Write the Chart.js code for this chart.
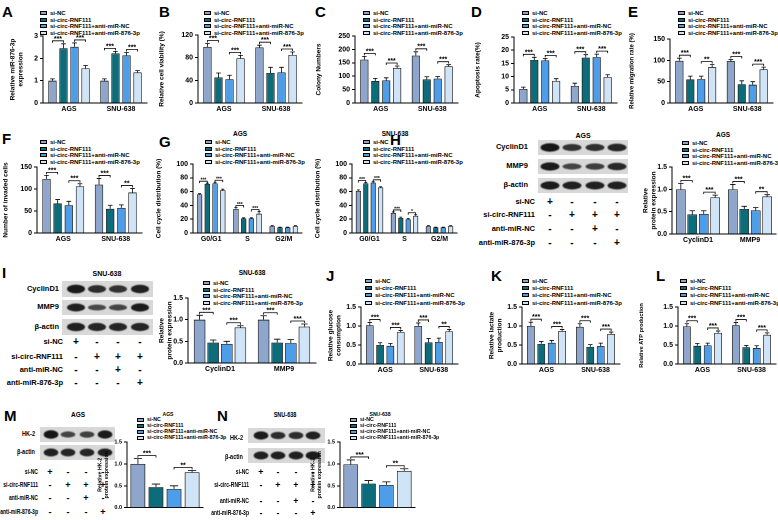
<!DOCTYPE html>
<html>
<head>
<meta charset="utf-8">
<script src="https://cdn.jsdelivr.net/npm/chart.js@4.4.1/dist/chart.umd.min.js"></script>
<style>
  body { margin: 0; background: #fff; width: 778px; height: 520px; position: relative; overflow: hidden;
         font-family: "Liberation Sans", Arial, sans-serif; font-weight: bold; color: #000; }
  .t { position: absolute; white-space: nowrap; line-height: 1; }
  canvas { position: absolute; }
  .lb { position: absolute; width: 7px; height: 4px; border: 0.6px solid #000; box-sizing: border-box; }
</style>
</head>
<body>
<script>
const series = ['si-NC', 'si-circ-RNF111', 'si-circ-RNF111+anti-miR-NC', 'si-circ-RNF111+anti-miR-876-3p'];
const colors = ['#8ea6cc', '#0d6c7a', '#4d9de8', '#d0e4f7'];
const cellLines = ['AGS', 'SNU-638'];
const phases = ['G0/G1', 'S', 'G2/M'];
const proteins = ['CyclinD1', 'MMP9'];

// A miR-876-3p
const mirAGS = [1.0, 2.45, 2.52, 1.55];
const mirSNU = [1.0, 2.22, 2.13, 1.37];
const mirAGSErr = [0.08, 0.2, 0.17, 0.13];
const mirSNUErr = [0.08, 0.09, 0.13, 0.08];
const mirSig = ['***', '***', '***', '***'];

// B viability
const viaAGS = [99, 45, 42, 79];
const viaSNU = [98, 53, 54, 85];
const viaAGSErr = [6, 8, 7, 5];
const viaSNUErr = [4, 10, 9, 5];
const viaSig = ['***', '***', '***', '***'];

// C colonies
const colAGS = [162, 82, 84, 131];
const colSNU = [177, 88, 91, 137];
const colAGSErr = [12, 10, 10, 7];
const colSNUErr = [14, 10, 8, 6];
const colSig = ['***', '***', '***', '***'];

// D apoptosis
const apoAGS = [5.3, 16.3, 16.1, 8.4];
const apoSNU = [6.5, 17.2, 17.4, 9.8];
const apoAGSErr = [0.7, 1.0, 0.8, 0.8];
const apoSNUErr = [1.0, 1.1, 1.1, 0.9];
const apoSig = ['***', '***', '***', '***'];

// E migration
const migAGS = [99, 55, 56, 84];
const migSNU = [98, 44, 43, 79];
const migAGSErr = [6, 8, 7, 6];
const migSNUErr = [4, 8, 7, 5];
const migSig = ['***', '**', '***', '***'];

// F invasion
const invAGS = [123, 67, 63, 106];
const invSNU = [110, 55, 57, 92];
const invAGSErr = [8, 9, 9, 6];
const invSNUErr = [14, 8, 7, 9];
const invSig = ['***', '***', '***', '**'];

// G cell cycle
const ccAGS_G1 = [56, 71, 72, 62], ccAGS_S = [35, 21, 21, 28], ccAGS_G2 = [10, 8, 8, 10];
const ccAGS_G1Err = [1, 1.2, 1.5, 1.5], ccAGS_SErr = [2, 1, 1, 3], ccAGS_G2Err = [0.6, 0.4, 0.4, 0.6];
const ccAGSSig = ['***', '***', '***', '***', '', ''];
const ccSNU_G1 = [61, 72, 73, 66], ccSNU_S = [29, 22, 20, 25], ccSNU_G2 = [10, 8, 8, 10];
const ccSNU_G1Err = [1.5, 1.2, 1.2, 1], ccSNU_SErr = [1.5, 1, 1, 1.5], ccSNU_G2Err = [0.6, 0.4, 0.4, 0.6];
const ccSNUSig = ['***', '***', '***', '*', '', ''];

// H / I protein expression
const hCyc = [1.0, 0.44, 0.45, 0.82], hMmp = [1.0, 0.56, 0.53, 0.84];
const hCycErr = [0.13, 0.08, 0.07, 0.05], hMmpErr = [0.11, 0.06, 0.06, 0.04];
const hSig = ['***', '***', '***', '**'];
const iCyc = [1.0, 0.47, 0.44, 0.82], iMmp = [1.0, 0.47, 0.46, 0.84];
const iCycErr = [0.1, 0.06, 0.06, 0.04], iMmpErr = [0.09, 0.08, 0.08, 0.06];
const iSig = ['***', '***', '***', '***'];

// J glucose, K lactate, L ATP
const gluAGS = [1.02, 0.5, 0.48, 0.84], gluSNU = [1.0, 0.57, 0.58, 0.86];
const gluAGSErr = [0.07, 0.06, 0.06, 0.04], gluSNUErr = [0.08, 0.1, 0.1, 0.05];
const gluSig = ['***', '***', '***', '**'];
const lacAGS = [1.0, 0.53, 0.56, 0.87], lacSNU = [0.98, 0.45, 0.47, 0.79];
const lacAGSErr = [0.1, 0.06, 0.06, 0.04], lacSNUErr = [0.08, 0.06, 0.08, 0.05];
const lacSig = ['***', '***', '***', '***'];
const atpAGS = [0.99, 0.48, 0.49, 0.82], atpSNU = [1.02, 0.44, 0.42, 0.77];
const atpAGSErr = [0.07, 0.06, 0.06, 0.05], atpSNUErr = [0.07, 0.05, 0.06, 0.05];
const atpSig = ['***', '***', '***', '***'];

// M / N HK-2
const hkAGS = [1.0, 0.47, 0.43, 0.81], hkAGSErr = [0.12, 0.07, 0.07, 0.04];
const hkSNU = [0.99, 0.55, 0.52, 0.84], hkSNUErr = [0.1, 0.07, 0.07, 0.05];
const hkSig = ['***', '**'];

// blot band strength per lane
const hBandCyc = [1.0, 0.7, 0.72, 0.85], hBandMmp = [0.95, 0.5, 0.58, 0.8], hBandAct = [0.95, 0.9, 0.9, 0.9];
const iBandCyc = [0.95, 0.75, 0.7, 0.9], iBandMmp = [0.9, 0.45, 0.5, 0.95], iBandAct = [0.9, 0.85, 0.85, 0.85];
const mBandHk = [1.0, 0.5, 0.55, 0.95], mBandAct = [0.9, 0.85, 0.85, 0.9];
const nBandHk = [0.95, 0.75, 0.75, 0.9], nBandAct = [0.9, 0.9, 0.9, 0.95];

const signRows = ['si-NC', 'si-circ-RNF111', 'anti-miR-NC', 'anti-miR-876-3p'];
const signNC = ['+', '-', '-', '-'];
const signCirc = ['-', '+', '+', '+'];
const signAntiNC = ['-', '-', '+', '-'];
const signAnti876 = ['-', '-', '-', '+'];

Chart.defaults.font.family = '"Liberation Sans", Arial, sans-serif';
Chart.defaults.font.weight = 'bold';
Chart.defaults.color = '#000';

function txt(s, x, y, size, align, sx) {
  const d = document.createElement('div');
  d.className = 't';
  d.textContent = s;
  d.style.left = x + 'px';
  d.style.top = y + 'px';
  d.style.fontSize = size + 'px';
  const tx = align === 'center' ? '-50%' : align === 'right' ? '-100%' : '0';
  d.style.transformOrigin = (align === 'center' ? 'center' : align === 'right' ? 'right' : 'left') + ' center';
  d.style.transform = `translate(${tx},-50%)` + (sx ? ` scaleX(${sx})` : '');
  document.body.appendChild(d);
}

function legend(x, y0, dy, size) {
  series.forEach((s, i) => {
    const b = document.createElement('div');
    b.className = 'lb';
    b.style.left = x + 'px';
    b.style.top = (y0 + i * dy - 2) + 'px';
    b.style.background = colors[i];
    document.body.appendChild(b);
    txt(s, x + 10, y0 + i * dy, size || 6, 'left');
  });
}

const extras = {
  id: 'extras',
  afterDatasetsDraw(chart, args, o) {
    const ctx = chart.ctx, y = chart.scales.y;
    ctx.save();
    ctx.strokeStyle = '#000';
    ctx.fillStyle = '#000';
    ctx.lineWidth = 0.8;
    chart.data.datasets.forEach((ds, i) => {
      chart.getDatasetMeta(i).data.forEach((bar, j) => {
        const yt = y.getPixelForValue(ds.data[j] + o.errs[j][i]);
        const hw = bar.width * 0.28;
        ctx.beginPath();
        ctx.moveTo(bar.x, bar.y); ctx.lineTo(bar.x, yt);
        ctx.moveTo(bar.x - hw, yt); ctx.lineTo(bar.x + hw, yt);
        ctx.stroke();
      });
    });
    ctx.font = `bold ${o.starSize || 7}px "Liberation Sans"`;
    ctx.textAlign = 'center';
    ctx.textBaseline = 'bottom';
    o.sig.forEach((s, k) => {
      if (!s) return;
      const j = Math.floor(k / 2), a = (k % 2) * 2, b = a + 1;
      const ba = chart.getDatasetMeta(a).data[j], bb = chart.getDatasetMeta(b).data[j];
      const d = chart.data.datasets;
      const top = Math.max(d[a].data[j] + o.errs[j][a], d[b].data[j] + o.errs[j][b]);
      const yp = y.getPixelForValue(top) - (o.gap || 3);
      ctx.beginPath();
      ctx.moveTo(ba.x, yp + 2); ctx.lineTo(ba.x, yp); ctx.lineTo(bb.x, yp); ctx.lineTo(bb.x, yp + 2);
      ctx.stroke();
      ctx.fillText(s, (ba.x + bb.x) / 2, yp + 1.5);
    });
    ctx.restore();
  }
};

function makeBar(c) {
  const padTop = c.padTop ?? 8, padR = c.padR ?? 3, xH = c.xH ?? 11, axisW = c.axisW;
  const L = c.box[0] - axisW, T = c.box[1] - padTop;
  const W = c.box[2] - c.box[0] + axisW + padR, H = c.box[3] - c.box[1] + padTop + xH;
  const cv = document.createElement('canvas');
  cv.style.left = L + 'px';
  cv.style.top = T + 'px';
  cv.width = W; cv.height = H;
  document.body.appendChild(cv);
  const fs = c.font || 7, ts = c.titleFont || 6.5;
  new Chart(cv, {
    type: 'bar',
    data: {
      labels: c.cats,
      datasets: series.map((s, i) => ({
        label: s,
        data: c.groups.map(g => g[i]),
        backgroundColor: colors[i],
        borderColor: '#111',
        borderWidth: 0.8,
        barPercentage: c.barPct || 0.75,
        categoryPercentage: c.catPct || 0.85
      }))
    },
    options: {
      responsive: false,
      animation: false,
      devicePixelRatio: 2,
      layout: { padding: { top: padTop, right: padR, left: 0, bottom: 0 } },
      plugins: {
        legend: { display: false },
        tooltip: { enabled: false },
        extras: { errs: c.errs, sig: c.sig, starSize: c.starSize, gap: c.gap }
      },
      scales: {
        x: {
          grid: { display: true, drawOnChartArea: false, drawTicks: false },
          border: { color: '#000', width: 1 },
          ticks: { font: { size: fs, weight: 'bold' }, color: '#000', padding: 2, maxRotation: 0, autoSkip: false },
          afterFit(s) { s.height = xH; }
        },
        y: {
          min: 0, max: c.yMax,
          ticks: { stepSize: c.step, font: { size: fs, weight: 'bold' }, color: '#000', padding: 2,
                   callback: v => c.dec ? v.toFixed(c.dec) : v },
          grid: { drawOnChartArea: false, drawTicks: true, tickLength: 3, color: '#000', lineWidth: 1 },
          border: { color: '#000', width: 1 },
          title: { display: true, text: c.title, font: { size: ts, weight: 'bold' }, color: '#000', padding: 0 },
          afterFit(s) { s.width = axisW; }
        }
      }
    },
    plugins: [extras]
  });
}

function blotRow(x, y, w, h, lanes, inten) {
  const d = 2, cv = document.createElement('canvas');
  cv.width = w * d; cv.height = h * d;
  cv.style.left = x + 'px'; cv.style.top = y + 'px';
  cv.style.width = w + 'px'; cv.style.height = h + 'px';
  document.body.appendChild(cv);
  const g = cv.getContext('2d');
  g.scale(d, d);
  g.fillStyle = '#d8d8d8';
  g.fillRect(0, 0, w, h);
  const sp = lanes[1] - lanes[0];
  g.filter = 'blur(1.1px)';
  lanes.forEach((lx, i) => {
    const k = inten[i];
    g.fillStyle = `rgba(12,12,12,${0.5 + 0.45 * k})`;
    g.beginPath();
    g.ellipse(lx - x, h / 2, sp * 0.43, h * 0.13 + h * 0.15 * k, 0, 0, Math.PI * 2);
    g.fill();
  });
}

function signTable(labelX, rowsY, cols, size, signSize, sx) {
  const signs = [signNC, signCirc, signAntiNC, signAnti876];
  signRows.forEach((r, i) => {
    txt(r, labelX, rowsY[i], size, 'right', sx);
    signs[i].forEach((s, j) => txt(s, cols[j], rowsY[i], signSize, 'center'));
  });
}

// panel letters
[['A', 2, 11], ['B', 159, 11], ['C', 315, 11], ['D', 471, 11], ['E', 628, 11],
 ['F', 2, 138], ['G', 159, 141], ['H', 390, 139], ['I', 2, 272], ['J', 326, 275],
 ['K', 491, 275], ['L', 656, 275], ['M', 4, 415], ['N', 217, 415]]
  .forEach(p => txt(p[0], p[1], p[2], 15, 'left'));

// row 1
legend(40, 13, 6.7); legend(204, 13, 6.7); legend(363, 13, 6.7); legend(522, 13, 6.7); legend(678, 13, 6.7);
makeBar({ box: [43, 36, 147, 103], axisW: 34, cats: cellLines, groups: [mirAGS, mirSNU], errs: [mirAGSErr, mirSNUErr],
          sig: mirSig, yMax: 3, step: 1, title: ['Relative miR-876-3p', 'expression'] });
makeBar({ box: [198, 35, 302, 103], axisW: 40, cats: cellLines, groups: [viaAGS, viaSNU], errs: [viaAGSErr, viaSNUErr],
          sig: viaSig, yMax: 120, step: 20, title: 'Relative cell viability (%)' });
makeBar({ box: [355, 36, 458, 103], axisW: 40, cats: cellLines, groups: [colAGS, colSNU], errs: [colAGSErr, colSNUErr],
          sig: colSig, yMax: 250, step: 50, title: 'Colony Numbers' });
makeBar({ box: [514, 37, 617, 103], axisW: 40, cats: cellLines, groups: [apoAGS, apoSNU], errs: [apoAGSErr, apoSNUErr],
          sig: apoSig, yMax: 25, step: 5, title: 'Apoptosis rate(%)' });
makeBar({ box: [670, 39, 773, 103], axisW: 42, cats: cellLines, groups: [migAGS, migSNU], errs: [migAGSErr, migSNUErr],
          sig: migSig, yMax: 150, step: 50, titleFont: 6, title: 'Relative migration rate (%)' });

// row 2
legend(40, 142, 6.7);
makeBar({ box: [37, 167, 142, 233], axisW: 35, cats: cellLines, groups: [invAGS, invSNU], errs: [invAGSErr, invSNUErr],
          sig: invSig, yMax: 150, step: 50, title: 'Number of invaded cells' });
txt('AGS', 240, 134, 6.5, 'center');
legend(205, 142, 6.7);
makeBar({ box: [193, 164, 302, 233], axisW: 38, cats: phases, groups: [ccAGS_G1, ccAGS_S, ccAGS_G2],
          errs: [ccAGS_G1Err, ccAGS_SErr, ccAGS_G2Err], sig: ccAGSSig, yMax: 100, step: 20, starSize: 5, gap: 2,
          barPct: 0.7, title: 'Cell cycle distribution (%)' });
txt('SNU-638', 395, 134, 6.5, 'center');
legend(363, 142, 6.7);
makeBar({ box: [352, 164, 457, 233], axisW: 38, cats: phases, groups: [ccSNU_G1, ccSNU_S, ccSNU_G2],
          errs: [ccSNU_G1Err, ccSNU_SErr, ccSNU_G2Err], sig: ccSNUSig, yMax: 100, step: 20, starSize: 5, gap: 2,
          barPct: 0.7, title: 'Cell cycle distribution (%)' });

// H blot + chart
txt('AGS', 583, 135, 7, 'center');
const hLanes = [550, 572, 595, 617];
blotRow(538, 140, 90, 15, hLanes, hBandCyc);
blotRow(538, 159, 90, 15, hLanes, hBandMmp);
blotRow(538, 178, 90, 15, hLanes, hBandAct);
txt('CyclinD1', 528, 147, 7.5, 'right');
txt('MMP9', 528, 166, 7.5, 'right');
txt('β-actin', 528, 185, 7.5, 'right');
signTable(535, [202, 215, 229, 243], hLanes, 7.5, 10);
txt('AGS', 723, 135, 6.5, 'center');
legend(682, 143, 6.7);
makeBar({ box: [672, 167, 776, 234], axisW: 30, padR: 1, cats: proteins, groups: [hCyc, hMmp], errs: [hCycErr, hMmpErr],
          sig: hSig, yMax: 1.5, step: 0.5, dec: 1, barPct: 0.85, catPct: 0.88, title: ['Relative', 'protein expression'] });

// I blot + chart
txt('SNU-638', 107, 273, 7, 'center');
const iLanes = [76, 97, 118, 140];
blotRow(62, 281, 91, 16, iLanes, iBandCyc);
blotRow(62, 300, 91, 15, iLanes, iBandMmp);
blotRow(62, 319, 91, 16, iLanes, iBandAct);
txt('CyclinD1', 59, 289, 7.5, 'right');
txt('MMP9', 59, 307, 7.5, 'right');
txt('β-actin', 59, 327, 7.5, 'right');
signTable(63, [342, 357, 370, 383], iLanes, 7.5, 10);
txt('SNU-638', 252, 273, 6.5, 'center');
legend(203, 283, 6.7);
makeBar({ box: [188, 298, 316, 363], axisW: 30, cats: proteins, groups: [iCyc, iMmp], errs: [iCycErr, iMmpErr],
          sig: iSig, yMax: 1.5, step: 0.5, dec: 1, barPct: 0.85, catPct: 0.85, title: ['Relative', 'protein expression'] });

// J K L
legend(365, 281, 7.2); legend(522, 281, 7.2); legend(680, 281, 7.2);
makeBar({ box: [361, 307, 458, 364], axisW: 34, cats: cellLines, groups: [gluAGS, gluSNU], errs: [gluAGSErr, gluSNUErr],
          sig: gluSig, yMax: 1.5, step: 0.5, dec: 1, title: ['Relative glucose', 'consumption'] });
makeBar({ box: [522, 307, 620, 364], axisW: 34, cats: cellLines, groups: [lacAGS, lacSNU], errs: [lacAGSErr, lacSNUErr],
          sig: lacSig, yMax: 1.5, step: 0.5, dec: 1, title: ['Relative lactate', 'production'] });
makeBar({ box: [678, 307, 776, 364], axisW: 40, padR: 1, cats: cellLines, groups: [atpAGS, atpSNU], errs: [atpAGSErr, atpSNUErr],
          sig: atpSig, yMax: 1.5, step: 0.5, dec: 1, titleFont: 5.6, title: 'Relative ATP production' });

// M
txt('AGS', 78, 415, 6.5, 'center');
const mLanes = [51, 68, 87, 105];
blotRow(40, 427, 75, 15, mLanes, mBandHk);
blotRow(40, 445, 75, 15, mLanes, mBandAct);
txt('HK-2', 35, 434, 6.5, 'right', 0.85);
txt('β-actin', 35, 452, 6.5, 'right', 0.85);
signTable(38, [472, 485, 498, 512], [50, 68, 86, 103], 6.3, 9, 0.8);
txt('AGS', 168, 414, 6, 'center', 0.85);
legend(137, 420, 6, 5.3);
makeBar({ box: [127, 442, 203, 509], axisW: 30, xH: 4, cats: [''], groups: [hkAGS], errs: [hkAGSErr], sig: hkSig,
          yMax: 1.5, step: 0.5, dec: 1, font: 5.5, titleFont: 5.3, barPct: 0.82, catPct: 0.95,
          title: ['Relative HK-2', 'protein expression'] });

// N
txt('SNU-638', 285, 415, 6.5, 'center', 0.85);
const nLanes = [261, 278, 296, 313];
blotRow(248, 428, 77, 15, nLanes, nBandHk);
blotRow(248, 448, 77, 15, nLanes, nBandAct);
txt('HK-2', 243, 438, 6.5, 'right', 0.85);
txt('β-actin', 243, 457, 6.5, 'right', 0.85);
signTable(249, [472, 485, 501, 513], nLanes, 6.3, 9, 0.8);
txt('SNU-638', 380, 414, 6, 'center', 0.85);
legend(350, 420, 6, 5.3);
makeBar({ box: [340, 442, 415, 509], axisW: 30, xH: 4, cats: [''], groups: [hkSNU], errs: [hkSNUErr], sig: hkSig,
          yMax: 1.5, step: 0.5, dec: 1, font: 5.5, titleFont: 5.3, barPct: 0.82, catPct: 0.95,
          title: ['Relative HK-2', 'protein expression'] });
</script>
</body>
</html>
